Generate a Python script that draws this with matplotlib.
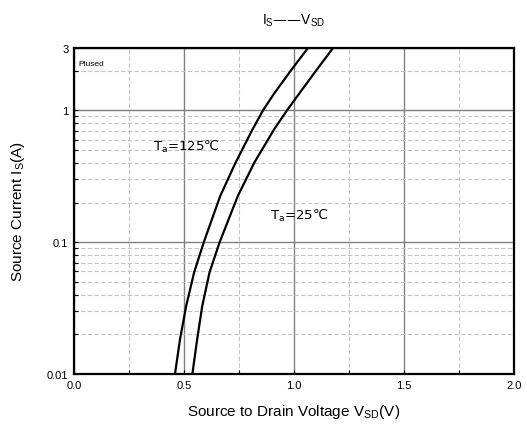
import matplotlib
matplotlib.use('Agg')
import matplotlib.pyplot as plt
from matplotlib.ticker import FixedLocator, NullFormatter, LogLocator

plt.rcParams['font.family'] = ['Liberation Sans', 'DejaVu Sans']

# data
i_s = [0.01, 0.0184, 0.0329, 0.059, 0.1, 0.225, 0.403, 0.72, 1.0, 1.33, 2.0, 3.0]
v_125 = [0.459, 0.482, 0.510, 0.546, 0.590, 0.665, 0.735, 0.812, 0.859, 0.908, 0.985, 1.065]
v_25 = [0.538, 0.560, 0.583, 0.616, 0.662, 0.745, 0.820, 0.910, 0.968, 1.022, 1.100, 1.179]

yticks = [0.01, 0.1, 1, 3]
ytick_labels = ['0.01', '0.1', '1', '3']
xticks = [0.0, 0.5, 1.0, 1.5, 2.0]

fig = plt.figure(figsize=(5.27, 4.27), dpi=100)
ax = fig.add_axes([0.1404, 0.1218, 0.835, 0.7646])

ax.plot(v_125, i_s, 'k-', lw=1.6, solid_joinstyle='round')
ax.plot(v_25, i_s, 'k-', lw=1.6, solid_joinstyle='round')

ax.set_yscale('log')
ax.set_xlim(0, 2.0)
ax.set_ylim(0.01, 3)

ax.xaxis.set_major_locator(FixedLocator(xticks))
ax.xaxis.set_minor_locator(FixedLocator([0.25, 0.75, 1.25, 1.75]))
ax.set_xticklabels([f'{v:.1f}' for v in xticks], fontsize=8)
ax.yaxis.set_minor_locator(LogLocator(base=10, subs=range(2, 10)))
ax.yaxis.set_minor_formatter(NullFormatter())
ax.set_yticks(yticks)
ax.set_yticklabels(ytick_labels, fontsize=8)

ax.grid(True, which='major', color='#808080', lw=1.0)
ax.grid(True, which='minor', color='#c4c4c4', lw=0.8, ls=(0, (4, 2)))
ax.tick_params(which='both', direction='in', length=3, width=0.8, pad=4)
for s in ax.spines.values():
    s.set_linewidth(1.6)

ax.set_title(r'I$_\mathregular{S}$——V$_\mathregular{SD}$', fontsize=10, pad=17)
ax.set_xlabel(r'Source to Drain Voltage V$_\mathregular{SD}$(V)', fontsize=11, labelpad=9)
ax.set_ylabel(r'Source Current I$_\mathregular{S}$(A)', fontsize=11, labelpad=14)

ax.text(0.36, 0.5, r'T$_\mathregular{a}$=125℃', fontsize=9.5, family='DejaVu Sans')
ax.text(0.89, 0.15, r'T$_\mathregular{a}$=25℃', fontsize=9.5, family='DejaVu Sans')
ax.text(0.02, 2.2, 'Plused', fontsize=6)

fig.savefig('out.png', dpi=100)
